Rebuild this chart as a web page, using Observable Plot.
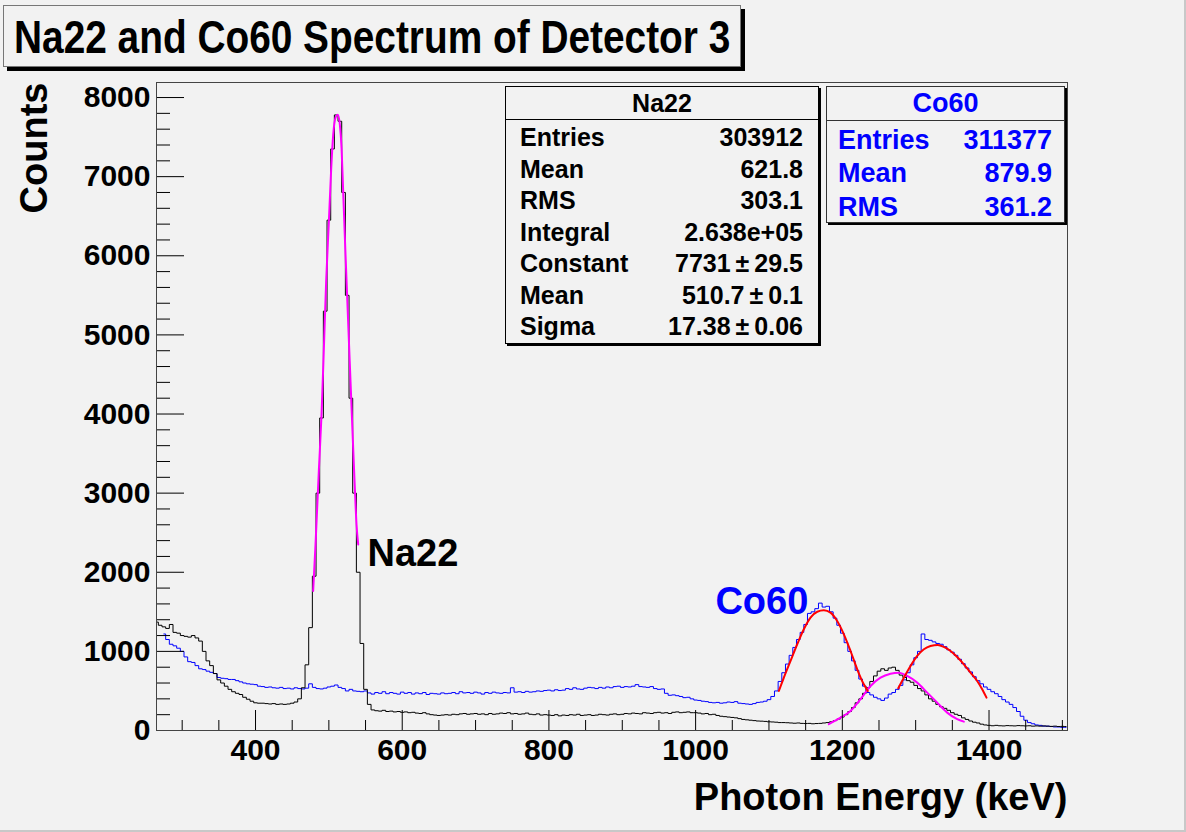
<!DOCTYPE html>
<html><head><meta charset="utf-8">
<script src="https://cdn.jsdelivr.net/npm/d3@7"></script>
<script src="https://cdn.jsdelivr.net/npm/@observablehq/plot@0.6"></script>
<style>
html,body{margin:0;padding:0;background:#f2f2f2;}
#wrap{position:relative;width:1186px;height:832px;overflow:hidden;background:#f2f2f2;font-family:"Liberation Sans",Arial,Helvetica,sans-serif;font-weight:bold;color:#000;}
#wrap svg{position:absolute;left:0;top:0;}
#edge{position:absolute;left:0;top:0;width:1186px;height:832px;box-sizing:border-box;border-right:2px solid #c8c8c8;border-bottom:2px solid #c8c8c8;pointer-events:none;}
#title{position:absolute;left:3px;top:5px;width:738px;height:62px;box-sizing:border-box;border:1px solid #777;box-shadow:4px 4px 0 #000;background:#f2f2f2;overflow:hidden;}
#title span{position:absolute;left:10px;top:4px;font-size:47px;line-height:54px;white-space:nowrap;transform:scaleX(0.826);transform-origin:0 0;}
.stat{position:absolute;box-sizing:border-box;border:1px solid #000;box-shadow:2px 2px 0 #000;background:#f2f2f2;}
.stat .hdr{box-sizing:border-box;border-bottom:1px solid #000;text-align:center;white-space:nowrap;}
.stat .row{display:flex;justify-content:space-between;white-space:nowrap;}
</style>
</head><body>
<div id="wrap">
  <div id="title"><span>Na22 and Co60 Spectrum of Detector 3</span></div>
  <div id="edge"></div>
</div>
<script>
// ---- Histogram: Na22 (black), 5 keV bins starting at 265 keV ----
const na22Start = 265, binWidth = 5;
const na22Counts = [
 1370,1330,1310,1290,1340,1240,1230,1200,1190,1180,
 1200,1170,1130,1000,880,820,720,640,600,560,
 520,490,470,455,420,395,370,350,345,345,
 340,335,340,330,335,330,335,345,360,400,
 540,830,1300,1950,3000,3950,5300,6450,7350,7780,
 7700,6800,5500,4200,3000,2000,1100,520,330,260,
 250,245,255,240,245,235,240,230,235,225,
 230,220,215,225,210,200,195,190,195,200,
 195,205,200,210,215,205,210,215,205,210,
 200,215,205,210,220,215,225,210,215,205,
 210,220,205,200,210,195,200,195,190,200,
 185,195,190,200,195,205,190,195,200,190,
 195,205,200,195,205,210,200,205,215,210,
 220,215,210,225,220,215,225,230,220,225,
 215,230,235,225,230,235,225,225,220,210,
 215,200,205,190,180,175,170,165,160,150,
 140,135,130,125,120,118,115,110,108,105,
 100,100,98,95,92,95,90,88,90,85,
 88,90,95,100,110,125,145,170,200,240,
 290,350,400,470,540,620,690,750,780,760,
 790,800,760,700,670,630,610,570,530,500,
 450,400,370,330,300,280,255,225,205,190,
 160,140,120,105,95,80,70,65,60,65,
 60,58,62,60,58,62,60,58,60,55,
 58,55,58,55,52,55,50,52,50
];
// ---- Histogram: Co60 (blue), 5 keV bins starting at 275 keV ----
const co60Start = 275;
const co60Counts = [
 1220,1150,1090,1070,1040,1000,930,870,860,820,
 780,770,750,735,720,670,660,655,645,645,
 630,615,600,590,585,580,560,555,545,550,
 540,535,545,530,535,525,540,530,525,535,
 590,545,530,525,535,550,560,575,545,530,
 500,520,500,495,490,500,475,460,480,470,
 490,465,480,470,460,485,470,480,460,475,
 465,480,455,470,465,460,475,465,470,480,
 465,490,475,480,470,485,475,460,480,470,
 485,475,470,480,475,540,485,490,480,495,
 485,490,500,495,505,510,500,515,505,510,
 530,520,540,525,520,535,545,540,530,545,
 535,550,540,555,560,545,555,550,560,580,
 555,550,545,555,530,520,525,470,445,450,
 440,430,415,420,400,385,380,370,365,355,
 350,355,345,350,360,355,365,345,340,335,
 330,340,355,360,370,390,430,500,620,730,
 840,950,1050,1150,1240,1340,1480,1500,1540,1610,
 1560,1570,1500,1420,1330,1230,1110,1000,880,760,
 650,560,480,450,420,400,380,410,460,480,
 520,570,640,730,830,920,1000,1220,1150,1140,
 1120,1100,1090,1060,1020,990,950,900,845,790,
 740,680,630,590,550,520,490,465,430,390,
 360,330,290,240,180,130,100,85,70,65,
 55,55,50,45,45,40,40
];
// ---- Fit curves ----
const na22FitE = [478.6,481.8,486.3,490.0,493.2,496.3,500.0,503.2,505.9,509.1,512.2,515.0,517.3,519.5,522.7,525.9,529.5,532.2,535.0,537.7,540.0];
const na22FitC = [1763,2352,3278,3994,4835,5677,6434,7107,7529,7747,7781,7655,7360,6813,6014,5256,4414,3783,3151,2604,2352];
const na22Fit2E = [1181.6,1197.6,1211.2,1224.8,1238.5,1252.1,1265.7,1277.1,1288.5,1302.1,1315.8,1329.4,1343.0,1356.6,1365.7];
const na22Fit2C = [80,163,247,395,563,668,718,731,689,605,479,352,226,143,112];
const co60Fit1E = [1113.5,1120.3,1129.4,1138.5,1147.5,1156.6,1165.8,1174.8,1183.9,1193.0,1202.1,1211.2,1220.3,1229.3,1234.8];
const co60Fit1C = [500,668,879,1090,1279,1426,1501,1519,1489,1384,1216,1005,774,584,500];
const co60Fit2E = [1276.2,1283.9,1293.0,1302.1,1311.2,1320.2,1330.2,1338.4,1347.5,1356.6,1365.7,1374.8,1383.9,1390.7,1396.6];
const co60Fit2C = [534,668,816,942,1026,1068,1081,1056,1005,929,837,731,626,521,415];
// ---- Axes ----
const xTickLabels = [400,600,800,1000,1200,1400];
const xMinorTicks = [300,350,450,500,550,650,700,750,850,900,950,1050,1100,1150,1250,1300,1350,1450,1500];
const yTickLabels = [0,1000,2000,3000,4000,5000,6000,7000,8000];
const yMinorTicks = [200,400,600,800,1200,1400,1600,1800,2200,2400,2600,2800,3200,3400,3600,3800,4200,4400,4600,4800,5200,5400,5600,5800,6200,6400,6600,6800,7200,7400,7600,7800];
// ---- Stats boxes ----
const naStatNames = ["Entries","Mean","RMS","Integral","Constant","Mean","Sigma"];
const naStatValues = ["303912","621.8","303.1","2.638e+05","7731\u2009\u00b1\u200929.5","510.7\u2009\u00b1\u20090.1","17.38\u2009\u00b1\u20090.06"];
const coStatNames = ["Entries","Mean","RMS"];
const coStatValues = ["311377","879.9","361.2"];

const na22 = na22Counts.map((c,i)=>({e:na22Start+i*binWidth, c}));
const co60 = co60Counts.map((c,i)=>({e:co60Start+i*binWidth, c}));
const pts = (E,C)=>E.map((e,i)=>({e, c:C[i]}));

const W=1186,H=832,mL=156,mR=119,mT=82,mB=102;
const pw=W-mL-mR, ph=H-mT-mB;

const chart = Plot.plot({
  width:W, height:H, marginLeft:mL, marginRight:mR, marginTop:mT, marginBottom:mB,
  style:{background:"transparent", fontFamily:"'Liberation Sans', Arial, sans-serif", fontWeight:"bold", fontSize:"30px", color:"#000", overflow:"visible"},
  x:{domain:[265,1507], axis:null},
  y:{domain:[0,8190], axis:null},
  marks:[
    Plot.line(co60,{x:"e",y:"c",curve:"step",stroke:"#0000ff",strokeWidth:1,clip:true}),
    Plot.line(na22,{x:"e",y:"c",curve:"step",stroke:"#000000",strokeWidth:1,clip:true}),
    Plot.line(pts(na22FitE,na22FitC),{x:"e",y:"c",curve:"monotone-x",stroke:"#ff00ff",strokeWidth:2}),
    Plot.line(pts(na22Fit2E,na22Fit2C),{x:"e",y:"c",curve:"monotone-x",stroke:"#ff00ff",strokeWidth:2}),
    Plot.line(pts(co60Fit1E,co60Fit1C),{x:"e",y:"c",curve:"monotone-x",stroke:"#ff0000",strokeWidth:2}),
    Plot.line(pts(co60Fit2E,co60Fit2C),{x:"e",y:"c",curve:"monotone-x",stroke:"#ff0000",strokeWidth:2}),
    Plot.tickX(xMinorTicks,{x:d=>d, insetTop:ph-10, stroke:"#000"}),
    Plot.tickX(xTickLabels,{x:d=>d, insetTop:ph-20, stroke:"#000"}),
    Plot.tickY(yMinorTicks,{y:d=>d, insetRight:pw-14, stroke:"#000"}),
    Plot.tickY(yTickLabels,{y:d=>d, insetRight:pw-28, stroke:"#000"}),
    Plot.frame({stroke:"#444"}),
    Plot.axisX(xTickLabels,{tickSize:0, tickPadding:8, label:null, tickFormat:d=>String(d), fontSize:30, fontWeight:"bold"}),
    Plot.axisY(yTickLabels,{tickSize:0, tickPadding:6, label:null, tickFormat:d=>String(d), fontSize:30, fontWeight:"bold"}),
    Plot.text(["Counts"],{frameAnchor:"top-left", rotate:-90, textAnchor:"end", lineAnchor:"bottom", dx:-110, fontSize:38, fontWeight:"bold"}),
    Plot.text(["Photon Energy (keV)"],{frameAnchor:"bottom-right", textAnchor:"end", lineAnchor:"bottom", dy:79, fontSize:38, fontWeight:"bold"}),
    Plot.text(["Na22"],{x:[552.7], y:[2236], textAnchor:"start", fontSize:38, fontWeight:"bold", fill:"#000"}),
    Plot.text(["Co60"],{x:[1027], y:[1624], textAnchor:"start", fontSize:38, fontWeight:"bold", fill:"#0000ff"})
  ]
});
const wrap = document.getElementById("wrap");
wrap.insertBefore(chart, wrap.firstChild);

function statBox(left, top, width, height, hdrH, rowH, padTop, padL, padR, fs, hfs, color, border, title, names, values){
  const b = document.createElement("div");
  b.className="stat";
  Object.assign(b.style,{left:left+"px",top:top+"px",width:width+"px",height:height+"px",borderColor:border,color:color});
  const h = document.createElement("div");
  h.className="hdr"; h.textContent=title;
  Object.assign(h.style,{height:hdrH+"px",lineHeight:(hdrH-1)+"px",fontSize:hfs+"px",borderBottomColor:border});
  b.appendChild(h);
  const body = document.createElement("div");
  body.style.paddingTop=padTop+"px";
  names.forEach((n,i)=>{
    const r=document.createElement("div"); r.className="row";
    Object.assign(r.style,{height:rowH+"px",lineHeight:rowH+"px",fontSize:fs+"px",paddingLeft:padL+"px",paddingRight:padR+"px"});
    const a=document.createElement("span"); a.textContent=n;
    const v=document.createElement("span"); v.textContent=values[i];
    r.appendChild(a); r.appendChild(v); body.appendChild(r);
  });
  b.appendChild(body);
  wrap.appendChild(b);
}
statBox(505,86,314,258,33,31.5,2,14,15,25,25,"#000","#000","Na22",naStatNames,naStatValues);
statBox(826,86,239,137,34,33.3,3,11,12,27,27,"#0000ff","#333","Co60",coStatNames,coStatValues);
</script>
</body></html>
